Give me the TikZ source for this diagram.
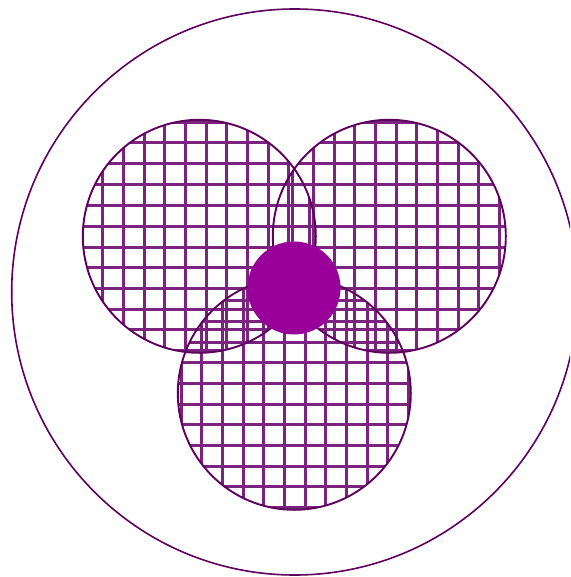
\documentclass[tikz,border=0pt]{standalone}
\usepackage{tikz}
\definecolor{rimpurple}{RGB}{94,0,94}
\definecolor{wirepurple}{RGB}{122,36,128}
\definecolor{hubpurple}{RGB}{153,0,153}

\begin{document}
\begin{tikzpicture}[x=1pt,y=-1pt,
  rim/.style={draw=rimpurple,line width=1.9pt},
  wire/.style={draw=wirepurple,line width=3pt},
  hub/.style={fill=hubpurple}
]
  \useasboundingbox (0,0) rectangle (570,577);
  \clip (0,0) rectangle (570,577);

  \coordinate (jacket) at (294.7,292);
  \coordinate (lobeL)  at (199,236);
  \coordinate (lobeR)  at (389,236);
  \coordinate (lobeB)  at (294,393);
  \coordinate (core)   at (294,288);

  % meshed lobes
  \foreach \lobe/\ox/\oy in {lobeL/-14/-10, lobeR/-14/-10, lobeB/-10/-10} {
    \begin{scope}[shift={(\lobe)}]
      \clip (0.3,0.3) circle[radius=116.5];
      \foreach \k in {-6,...,6} {
        \pgfmathsetmacro{\gx}{round(\ox+\k*20.67)}
        \pgfmathsetmacro{\gy}{round(\oy+\k*20.67)}
        \draw[wire] (\gx,-125) -- (\gx,125);
        \draw[wire] (-125,\gy) -- (125,\gy);
      }
    \end{scope}
  }
  \foreach \lobe in {lobeL,lobeR,lobeB}
    \draw[rim] ([shift={(0.3,0.3)}]\lobe) circle[radius=116.5];

  \draw[rim,line width=1.6pt] (jacket) circle[radius=283];
  \fill[hub] (core) circle[radius=46.5];
\end{tikzpicture}
\end{document}
